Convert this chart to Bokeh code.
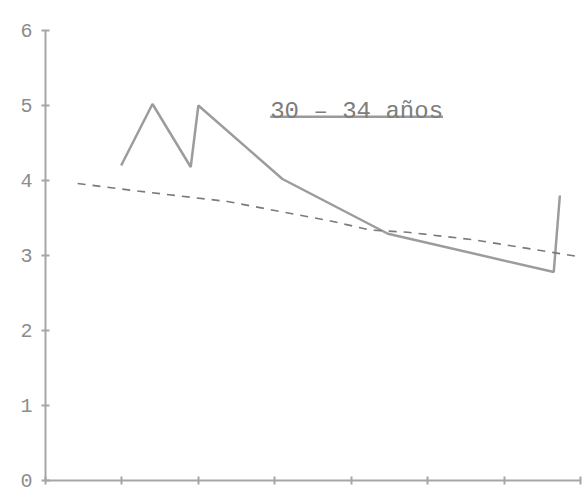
from bokeh.plotting import figure
from bokeh.models import Range1d, Label, FixedTicker
from bokeh.embed import file_html
from bokeh.resources import INLINE

# data
x_obs = [0.99, 1.40, 1.90, 2.00, 3.10, 4.48, 6.65, 6.73]
y_obs = [4.20, 5.02, 4.18, 5.00, 4.02, 3.29, 2.78, 3.80]
x_trend = [0.42, 1.20, 2.38, 3.73, 4.25, 4.74, 5.60, 6.52, 7.00]
y_trend = [3.96, 3.86, 3.72, 3.46, 3.34, 3.31, 3.21, 3.06, 2.98]
y_ticks = [0, 1, 2, 3, 4, 5, 6]
x_ticks = [0, 1, 2, 3, 4, 5, 6, 7]
title_text = "30 \u2013 34 a\u00f1os"

FONT = "Liberation Mono"
W, H = 584, 492
LB, RB, TB, BB = 45, 4, 30, 12
p = figure(width=W, height=H, output_backend="svg", toolbar_location=None,
           x_range=Range1d(0, 7), y_range=Range1d(0, 6),
           min_border_left=LB, min_border_right=RB, min_border_top=TB, min_border_bottom=BB)
p.grid.visible = False
p.outline_line_color = None
p.background_fill_color = "white"
p.border_fill_color = "white"

for ax in (p.xaxis[0], p.yaxis[0]):
    ax.axis_line_color = "#a6a6a6"
    ax.axis_line_width = 2
    ax.major_tick_line_color = "#a6a6a6"
    ax.major_tick_line_width = 2
    ax.major_tick_in = 4
    ax.major_tick_out = 4
    ax.minor_tick_line_color = None

p.xaxis.ticker = FixedTicker(ticks=x_ticks)
p.xaxis.major_label_overrides = {t: "" for t in x_ticks}
p.xaxis.major_label_standoff = 0

p.yaxis.ticker = FixedTicker(ticks=y_ticks)
p.yaxis.major_label_text_font = FONT
p.yaxis.major_label_text_font_size = "20px"
p.yaxis.major_label_text_color = "#8c8c8c"
p.yaxis.major_label_standoff = 9

# observed series
p.line(x_obs, y_obs, line_color="#9c9c9c", line_width=2.5)
# trend (dashed)
p.line(x_trend, y_trend, line_color="#7a7a7a", line_width=1.6, line_dash="8 7")

# title label with underline
title_x, title_y, fs = 2.94, 4.92, 24
px_per_unit = (W - LB - RB) / 7.0
title_w = len(title_text) * 0.6 * fs / px_per_unit
p.add_layout(Label(x=title_x, y=title_y, text=title_text, text_font=FONT,
                   text_font_size=f"{fs}px", text_color="#7d7d7d",
                   text_baseline="alphabetic"))
p.line([title_x, title_x + title_w], [title_y - 0.07, title_y - 0.07],
       line_color="#9a9a9a", line_width=2.5)

open("out.html", "w").write(file_html(p, INLINE))
